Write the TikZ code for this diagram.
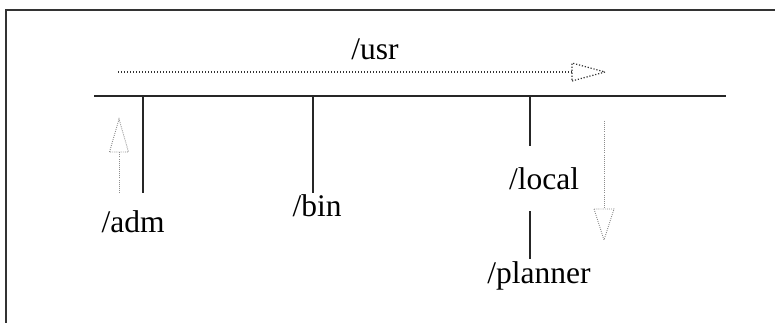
\documentclass[tikz,border=0pt]{standalone}
\usepackage{fontspec}
\setmainfont{Liberation Serif}
\begin{document}
\begin{tikzpicture}[x=1pt,y=-1pt,
  label/.style={inner sep=0pt,anchor=base,font=\fontsize{31.5}{36}\selectfont},
  branch/.style={line width=1.4pt,black!85},
  bar/.style={line width=2.2pt,black!85},
  flow/.style={dash pattern=on 1.2pt off 1.8pt,line width=1.2pt,black!80},
  sideflow/.style={dash pattern=on 0.9pt off 1.2pt,line width=0.9pt,black!45}]
\useasboundingbox (0,0) rectangle (775,323);
% frame
\draw[line width=1.4pt,black!80] (6,323) -- (6,10) -- (790,10);
% main directory bar
\coordinate (barL) at (94,96);
\coordinate (barR) at (726,96);
\draw[bar] (barL) -- (barR);
% labels
\node[label] (usr) at (375,60) {/usr};
\node[label] (adm) at (133,232) {/adm};
\node[label] (bin) at (317,216) {/bin};
\node[label] (local) at (544,189) {/local};
\node[label] (planner) at (539,283) {/planner};
% branches
\coordinate (admTop) at (143,96);   \coordinate (admEnd) at (143,193);
\coordinate (binTop) at (313,96);   \coordinate (binEnd) at (313,193);
\coordinate (locTop) at (530,96);   \coordinate (locEnd) at (530,146);
\coordinate (plaTop) at (530,211);  \coordinate (plaEnd) at (530,259);
\draw[branch] (admTop) -- (admEnd);
\draw[branch] (binTop) -- (binEnd);
\draw[branch] (locTop) -- (locEnd);
\draw[branch] (plaTop) -- (plaEnd);
% dotted flow along /usr
\coordinate (fS) at (118,72);
\coordinate (fB) at (572,72);
\coordinate (fT) at (605,72);
\draw[flow] (fS) -- (fB);
\draw[flow] ([yshift=-9]fB) -- (fT) -- ([yshift=9]fB) -- cycle;
% upward flow beside /adm
\coordinate (uS) at (119,193);
\coordinate (uB) at (119,152);
\coordinate (uT) at (119,119);
\draw[sideflow] (uS) -- (uB);
\draw[sideflow] ([xshift=-9.5]uB) -- (uT) -- ([xshift=9.5]uB) -- cycle;
% downward flow beside /local
\coordinate (dS) at (604,121);
\coordinate (dB) at (604,209);
\coordinate (dT) at (604,240);
\draw[sideflow] (dS) -- (dB);
\draw[sideflow] ([xshift=-10]dB) -- (dT) -- ([xshift=10]dB) -- cycle;
\end{tikzpicture}
\end{document}
